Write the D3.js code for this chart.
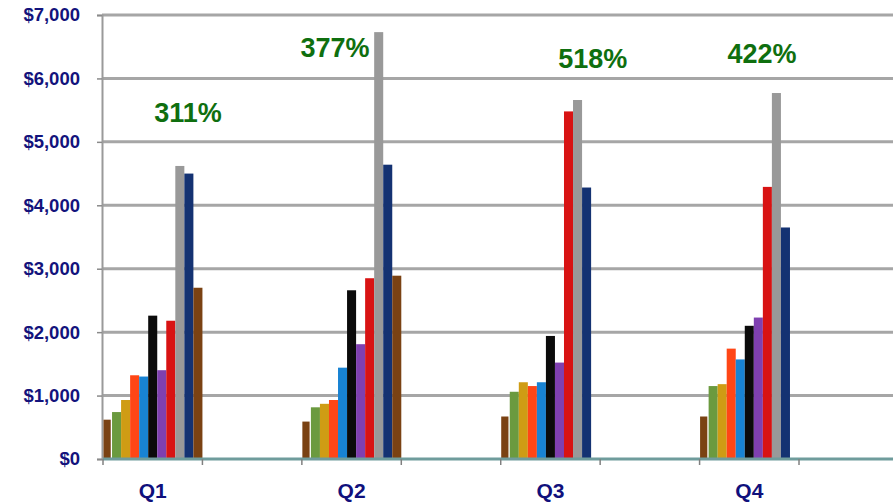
<!DOCTYPE html>
<html>
<head>
<meta charset="utf-8">
<script src="https://cdn.jsdelivr.net/npm/d3@7"></script>
<style>
  html, body { margin: 0; padding: 0; background: #fff; }
  svg { display: block; font-family: Arial, "Liberation Sans", sans-serif; }
</style>
</head>
<body>
<svg id="chart" width="893" height="502"></svg>
<script>
// Axis slots: each quarter is followed by an empty slot
const categories = ["Q1", "", "Q2", "", "Q3", "", "Q4", ""];

// Eleven series per quarter, in drawing order
const q1Values = [620, 740, 930, 1320, 1300, 2260, 1400, 2180, 4620, 4500, 2700];
const q2Values = [590, 815, 870, 930, 1440, 2660, 1810, 2850, 6730, 4640, 2890];
const q3Values = [670, 1060, 1210, 1150, 1210, 1940, 1520, 5480, 5660, 4280, 0];
const q4Values = [670, 1150, 1180, 1740, 1570, 2100, 2230, 4290, 5770, 3650, 0];

const growthLabels = ["311%", "377%", "518%", "422%"];

const yTicks = [0, 1000, 2000, 3000, 4000, 5000, 6000, 7000];

// ---- layout & styling ----
const W = 893, H = 502;
const seriesColors = ["#7a4213", "#6b9a3f", "#cf9c14", "#ff4616", "#1883d3",
                      "#0b0b0b", "#7f40b0", "#d81313", "#999999", "#143272", "#7a4213"];

const quarterData = [
  { label: "Q1", values: q1Values },
  { label: "Q2", values: q2Values },
  { label: "Q3", values: q3Values },
  { label: "Q4", values: q4Values }
];

const svg = d3.select("#chart");

const slotW = 99.43;
const x = d3.scaleBand()
  .domain(d3.range(categories.length))
  .range([103, 103 + slotW * categories.length])
  .paddingInner(0).paddingOuter(0);

const xs = d3.scaleBand()
  .domain(d3.range(seriesColors.length))
  .range([0, x.bandwidth()])
  .padding(0);

const y = d3.scaleLinear().domain([0, 7000]).range([459, 15]);

// Horizontal gridlines
svg.append("g")
  .selectAll("line")
  .data(yTicks.filter(d => d > 0))
  .join("line")
  .attr("x1", 102).attr("x2", W)
  .attr("y1", d => y(d)).attr("y2", d => y(d))
  .attr("stroke", "#a6a6a6")
  .attr("stroke-width", 3);

// Y axis
const yAxis = d3.axisLeft(y)
  .tickValues(yTicks)
  .tickFormat(d => "$" + d3.format(",")(d))
  .tickSize(5)
  .tickPadding(17);

const gy = svg.append("g")
  .attr("transform", "translate(102,0)")
  .call(yAxis);
gy.select(".domain").attr("stroke", "#9a9a9a").attr("stroke-width", 2);
gy.selectAll(".tick line").attr("stroke", "#8a8a8a").attr("stroke-width", 1.5);
gy.selectAll(".tick text")
  .attr("fill", "#13137c")
  .attr("font-size", 18.5)
  .attr("font-weight", "bold")
  .attr("font-family", "Arial, 'Liberation Sans', sans-serif");

// Bars
const slotOf = label => categories.indexOf(label);
const barGroups = svg.append("g")
  .selectAll("g")
  .data(quarterData)
  .join("g")
  .attr("transform", d => `translate(${x(slotOf(d.label))},0)`);

barGroups.selectAll("rect")
  .data(d => d.values.map((v, i) => ({ v, i })))
  .join("rect")
  .attr("x", d => xs(d.i) + (d.i === 0 ? 0.5 : 0))
  .attr("width", d => xs.bandwidth() - (d.i === 0 ? 1.8 : 0))
  .attr("y", d => y(d.v))
  .attr("height", d => y(0) - y(d.v))
  .attr("fill", d => seriesColors[d.i]);

// X axis line
svg.append("line")
  .attr("x1", 103).attr("x2", W)
  .attr("y1", y(0)).attr("y2", y(0))
  .attr("stroke", "#6f9c9c")
  .attr("stroke-width", 3);

// Slot boundary ticks
svg.append("g")
  .selectAll("line")
  .data(d3.range(categories.length))
  .join("line")
  .attr("x1", d => x(d)).attr("x2", d => x(d))
  .attr("y1", y(0)).attr("y2", y(0) + 6)
  .attr("stroke", "#808080")
  .attr("stroke-width", 1.5);

// Quarter labels
const xAxis = d3.axisBottom(x)
  .tickFormat(i => categories[i])
  .tickSize(0)
  .tickPadding(24);
const gx = svg.append("g")
  .attr("transform", `translate(0,${y(0)})`)
  .call(xAxis);
gx.select(".domain").remove();
gx.selectAll(".tick text")
  .attr("fill", "#10107c")
  .attr("font-size", 21)
  .attr("font-weight", "bold")
  .attr("font-family", "Arial, 'Liberation Sans', sans-serif");

// Growth annotations, placed by slot fraction and value height
const growthPlacement = [
  { frac: 0.855, v: 5313 },
  { frac: 0.333, v: 6338 },
  { frac: 0.925, v: 6164 },
  { frac: 0.627, v: 6243 }
];
svg.append("g")
  .selectAll("text")
  .data(quarterData)
  .join("text")
  .attr("x", (d, i) => x(slotOf(d.label)) + growthPlacement[i].frac * x.bandwidth())
  .attr("y", (d, i) => y(growthPlacement[i].v))
  .attr("text-anchor", "middle")
  .attr("fill", "#0f6f0f")
  .attr("font-size", 27)
  .attr("font-weight", "bold")
  .text((d, i) => growthLabels[i]);
</script>
</body>
</html>
